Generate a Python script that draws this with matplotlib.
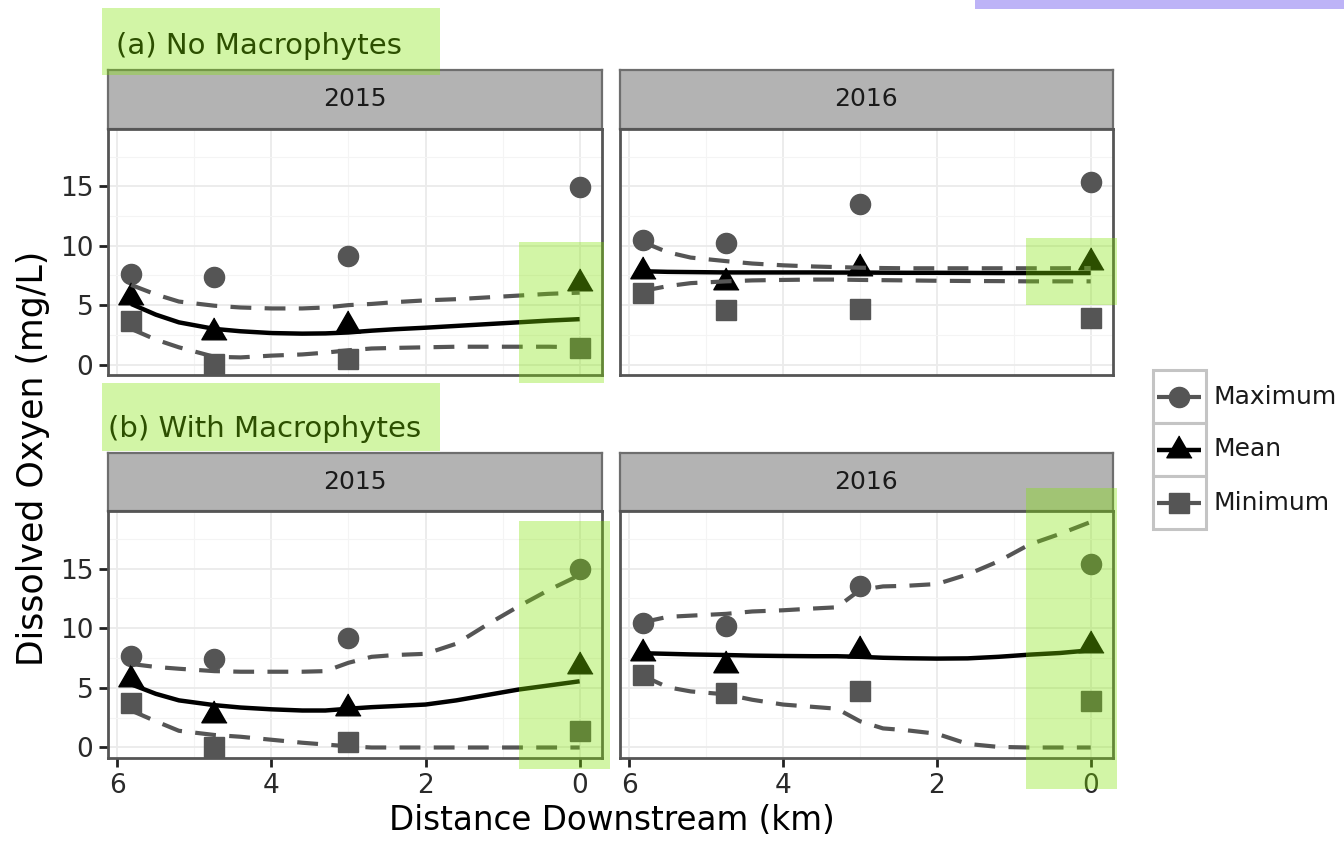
import matplotlib
matplotlib.use("Agg")
import matplotlib.pyplot as plt
from matplotlib.patches import Rectangle

plt.rcParams['font.family'] = ['DejaVu Sans']

W, H = 1344, 843

# ---------------- data ----------------
years = ['2015', '2016']
site_km = [5.82, 4.74, 3.0, 0.0]
obs_max_2015 = [7.65, 7.4, 9.15, 14.95]
obs_mean_2015 = [5.7, 2.75, 3.3, 6.85]
obs_min_2015 = [3.7, 0.05, 0.5, 1.4]
obs_max_2016 = [10.45, 10.2, 13.5, 15.4]
obs_mean_2016 = [7.9, 6.95, 8.15, 8.6]
obs_min_2016 = [6.05, 4.6, 4.7, 3.9]

curve_km = [5.82, 5.5, 5.2, 4.74, 4.4, 4.0, 3.6, 3.3, 3.0, 2.7, 2.4, 2.0, 1.6, 1.2, 0.8, 0.4, 0.0]
# (a) No macrophytes model predictions
nm_upper_2015 = [6.7, 5.9, 5.3, 4.95, 4.8, 4.72, 4.72, 4.8, 5.0, 5.1, 5.25, 5.4, 5.5, 5.65, 5.8, 5.95, 6.05]
nm_mean_2015 = [5.1, 4.2, 3.55, 3.0, 2.8, 2.65, 2.6, 2.62, 2.7, 2.85, 2.97, 3.1, 3.25, 3.4, 3.55, 3.7, 3.82]
nm_lower_2015 = [3.0, 2.1, 1.45, 0.65, 0.6, 0.75, 0.85, 1.0, 1.2, 1.35, 1.4, 1.45, 1.5, 1.5, 1.5, 1.5, 1.45]
nm_upper_2016 = [10.3, 9.45, 9.0, 8.7, 8.5, 8.35, 8.25, 8.2, 8.15, 8.12, 8.1, 8.1, 8.1, 8.1, 8.1, 8.1, 8.12]
nm_mean_2016 = [7.85, 7.8, 7.78, 7.75, 7.75, 7.75, 7.75, 7.74, 7.74, 7.73, 7.72, 7.72, 7.71, 7.7, 7.7, 7.7, 7.7]
nm_lower_2016 = [6.2, 6.6, 6.85, 7.0, 7.08, 7.12, 7.15, 7.15, 7.12, 7.1, 7.08, 7.05, 7.03, 7.02, 7.0, 7.0, 7.0]
# (b) With macrophytes model predictions
wm_upper_2015 = [7.0, 6.75, 6.6, 6.4, 6.35, 6.35, 6.35, 6.4, 7.1, 7.6, 7.75, 7.85, 8.7, 10.3, 11.8, 13.2, 14.45]
wm_mean_2015 = [5.3, 4.5, 3.95, 3.55, 3.35, 3.2, 3.1, 3.1, 3.25, 3.38, 3.47, 3.6, 3.95, 4.4, 4.85, 5.2, 5.55]
wm_lower_2015 = [3.1, 2.2, 1.4, 1.05, 0.9, 0.65, 0.4, 0.25, 0.1, 0.0, 0.0, 0.0, 0.0, 0.0, 0.0, 0.0, 0.0]
wm_upper_2016 = [10.5, 10.95, 11.05, 11.2, 11.4, 11.5, 11.65, 11.75, 13.2, 13.5, 13.55, 13.7, 14.5, 15.6, 17.0, 17.9, 18.9]
wm_mean_2016 = [7.9, 7.85, 7.8, 7.75, 7.7, 7.67, 7.65, 7.65, 7.6, 7.52, 7.48, 7.45, 7.47, 7.6, 7.78, 7.92, 8.15]
wm_lower_2016 = [6.0, 5.05, 4.7, 4.45, 4.0, 3.6, 3.4, 3.25, 2.2, 1.6, 1.45, 1.15, 0.3, 0.05, 0.0, 0.0, 0.0]

row_titles = ['(a) No Macrophytes', '(b) With Macrophytes']
legend_labels = ['Maximum', 'Mean', 'Minimum']
x_ticks = [6, 4, 2, 0]
y_ticks = [0, 5, 10, 15]

obs = {
    '2015': (obs_max_2015, obs_mean_2015, obs_min_2015),
    '2016': (obs_max_2016, obs_mean_2016, obs_min_2016),
}
curves = {
    (0, '2015'): (nm_upper_2015, nm_mean_2015, nm_lower_2015),
    (0, '2016'): (nm_upper_2016, nm_mean_2016, nm_lower_2016),
    (1, '2015'): (wm_upper_2015, wm_mean_2015, wm_lower_2015),
    (1, '2016'): (wm_upper_2016, wm_mean_2016, wm_lower_2016),
}

# ---------------- styles ----------------
PT_COL = '#555555'
TRI = [(0, 1.0), (-0.866, -0.5), (0.866, -0.5)]   # centroid-centred triangle
pt_styles = [dict(marker='o', ms=14.5, color=PT_COL),
             dict(marker=TRI, ms=21, color='black'),
             dict(marker='s', ms=14, color=PT_COL)]
line_styles = [dict(color=PT_COL, lw=3.0, dashes=(5, 3.2)),
               dict(color='black', lw=3.2),
               dict(color=PT_COL, lw=3.0, dashes=(5, 3.2))]


def rect(x0, y0, x1, y1):
    return [x0 / W, 1 - y1 / H, (x1 - x0) / W, (y1 - y0) / H]


fig = plt.figure(figsize=(W / 100, H / 100), dpi=100)

col_x = [(108, 602), (620, 1113)]
row_panel_y = [(129, 375), (511, 758)]
row_strip_y = [(70, 129), (453, 511)]

for r in range(2):
    for c, yr in enumerate(years):
        x0, x1 = col_x[c]
        py0, py1 = row_panel_y[r]
        sy0, sy1 = row_strip_y[r]
        # strip
        sax = fig.add_axes(rect(x0, sy0, x1, sy1))
        sax.set_facecolor('#B3B3B3')
        sax.set_xticks([]); sax.set_yticks([])
        for s in sax.spines.values():
            s.set_color('#6E6E6E'); s.set_linewidth(1.6)
        sax.text(0.5, 0.5, yr, transform=sax.transAxes, ha='center', va='center',
                 fontsize=18, color='#1A1A1A')
        # panel
        ax = fig.add_axes(rect(x0, py0, x1, py1))
        ax.set_xlim(6.12, -0.29)
        ax.set_ylim(-0.88, 19.82)
        ax.set_xticks(x_ticks)
        ax.set_yticks(y_ticks)
        ax.set_xticks([5, 3, 1], minor=True)
        ax.set_yticks([2.5, 7.5, 12.5, 17.5], minor=True)
        ax.grid(True, which='major', color='#EBEBEB', lw=1.3, zorder=0)
        ax.grid(True, which='minor', color='#F4F4F4', lw=0.8, zorder=0)
        ax.set_axisbelow(True)
        for s in ax.spines.values():
            s.set_color('#555555'); s.set_linewidth(2.0)
        ax.tick_params(which='minor', length=0)
        ax.tick_params(which='major', length=6.5, width=2, color='#222222',
                       labelsize=19, labelcolor='#2A2A2A', pad=4)
        if c != 0:
            ax.tick_params(axis='y', which='major', left=False, labelleft=False)
        if r == 0:
            ax.tick_params(axis='x', which='major', bottom=False, labelbottom=False)
        ov = obs[yr]
        for vals, st in zip(ov, pt_styles):
            ax.plot(site_km, vals, linestyle='none', zorder=2, **st)
        cv = curves[(r, yr)]
        for vals, st in zip(cv, line_styles):
            ax.plot(curve_km, vals, zorder=3, solid_capstyle='butt', **st)

# row titles
fig.text(116 / W, 1 - 54 / H, row_titles[0], fontsize=21, color='black', va='baseline', ha='left')
fig.text(108 / W, 1 - 437 / H, row_titles[1], fontsize=21, color='black', va='baseline', ha='left')

# axis titles
fig.text(33 / W, 1 - 458 / H, 'Dissolved Oxyen (mg/L)', rotation=90, fontsize=25,
         ha='center', va='center', color='black')
fig.text(612 / W, 1 - 821 / H, 'Distance Downstream (km)', fontsize=23.5,
         ha='center', va='center', color='black')

# legend (drawn in pixel space)
lax = fig.add_axes(rect(1140, 360, 1344, 540))
lax.set_xlim(1140, 1344)
lax.set_ylim(540, 360)
lax.axis('off')
for i, lab in enumerate(legend_labels):
    ky0 = 370 + i * 53
    lax.add_patch(Rectangle((1153, ky0), 53, 53, facecolor='white', edgecolor='#C4C4C4', lw=2.2))
    cy = ky0 + 26.5
    ls = dict(line_styles[i]); ls.pop('dashes', None)
    lax.plot([1157, 1201], [cy, cy], solid_capstyle='butt', **ls)
    lax.plot([1179], [cy], linestyle='none', **pt_styles[i])
    lax.text(1213, cy, lab, fontsize=18, va='center', ha='left', color='#1A1A1A')

# highlight overlays (green) and top purple bar
GREEN = '#80E400'
for (gx0, gy0, gx1, gy1) in [(102, 8, 440, 75), (519, 242, 604, 383), (1026, 238, 1117, 305),
                             (102, 383, 440, 451), (519, 521, 610, 769), (1026, 488, 1117, 789)]:
    fig.add_artist(Rectangle((gx0 / W, 1 - gy1 / H), (gx1 - gx0) / W, (gy1 - gy0) / H,
                             transform=fig.transFigure, facecolor=GREEN, alpha=0.35,
                             edgecolor='none', zorder=10))
fig.add_artist(Rectangle((975 / W, 1 - 9 / H), (W - 975) / W, 9 / H, transform=fig.transFigure,
                         facecolor='#BDB3F7', edgecolor='none', zorder=10))

fig.savefig('out.png', dpi=100)
